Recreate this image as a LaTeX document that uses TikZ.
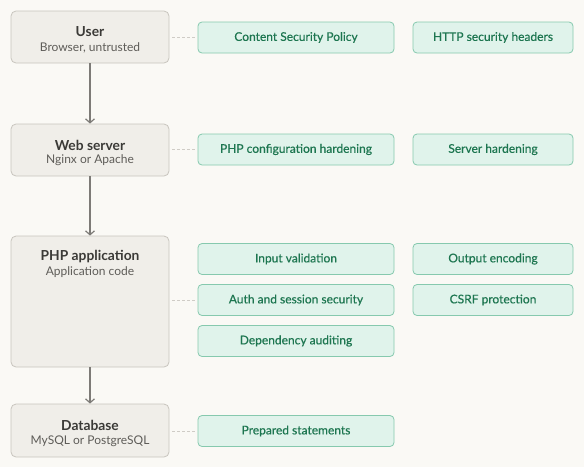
\documentclass[tikz,border=0pt]{standalone}
\usepackage{fontspec}
\setmainfont{Lato}
\newfontfamily\guardfont{Lato}[FakeBold=0.4]
\usetikzlibrary{positioning,arrows.meta}

\definecolor{pagebg}{HTML}{FAF9F5}
\definecolor{layerfill}{HTML}{F0EEE9}
\definecolor{layerdraw}{HTML}{C8C5BE}
\definecolor{layertext}{HTML}{3B3A37}
\definecolor{layersub}{HTML}{5E5C58}
\definecolor{guardfill}{HTML}{E0F3EB}
\definecolor{guarddraw}{HTML}{86C9AE}
\definecolor{guardtext}{HTML}{1D7650}
\definecolor{linkgray}{HTML}{7D7B77}
\definecolor{dashgray}{HTML}{CFCCC6}

\tikzset{
	layer/.style={draw=layerdraw, fill=layerfill, rounded corners=5pt, line width=0.8pt, minimum width=158pt},
	title/.style={text=layertext, font=\fontsize{13.8}{16}\selectfont\bfseries, anchor=center},
	subtitle/.style={text=layersub, font=\fontsize{12}{14}\selectfont, anchor=center},
	guard/.style={draw=guarddraw, fill=guardfill, rounded corners=4pt, line width=0.8pt, minimum height=31pt, text=guardtext, font=\guardfont\fontsize{12}{14}\selectfont},
	wide/.style={guard, minimum width=196pt},
	narrow/.style={guard, minimum width=160pt},
	flow/.style={draw=linkgray, line width=1.2pt, >={Straight Barb[length=4pt,width=9pt]}},
	tie/.style={draw=dashgray, line width=0.8pt, dash pattern=on 3pt off 2pt}
}

\begin{document}
\begin{tikzpicture}[x=1pt,y=-1pt]
	\fill[pagebg] (0,0) rectangle (584,467);
	\useasboundingbox (0,0) rectangle (584,467);

	% layers
	\node[layer, minimum height=52pt] (user) at (90,37) {};
	\node[title] (usertitle) at (90,32) {User};
	\node[subtitle] (usersub) at (90,47.5) {Browser, untrusted};

	\node[layer, minimum height=52pt] (web) at (90,150) {};
	\node[title] (webtitle) at (90,145) {Web server};
	\node[subtitle] (websub) at (90,160.5) {Nginx or Apache};

	\node[layer, minimum height=131pt] (app) at (90,301.5) {};
	\node[title] (apptitle) at (90,257) {PHP application};
	\node[subtitle] (appsub) at (90,272.5) {Application code};

	\node[layer, minimum height=53pt] (db) at (90,430.5) {};
	\node[title] (dbtitle) at (90,425) {Database};
	\node[subtitle] (dbsub) at (90,441.5) {MySQL or PostgreSQL};

	% flow between layers
	\draw[flow] [->] (user) -- (web);
	\draw[flow] [->] (web) -- (app);
	\draw[flow] [->] (app) -- (db);

	% user measures
	\node[wide] (csp) at (296,37.5) {Content Security Policy};
	\node[narrow] (headers) at (493,37.5) {HTTP security headers};

	% web server measures
	\node[wide] (phpconf) at (296,149.5) {PHP configuration hardening};
	\node[narrow] (serverhard) at (493,149.5) {Server hardening};

	% application measures
	\node[wide] (input) at (296,259) {Input validation};
	\node[narrow] (output) at (493,259) {Output encoding};
	\node[wide] (auth) at (296,300) {Auth and session security};
	\node[narrow] (csrf) at (493,300) {CSRF protection};
	\node[wide] (deps) at (296,341) {Dependency auditing};

	% database measures
	\node[wide] (prepared) at (296,431) {Prepared statements};

	% ties
	\draw[tie] ([xshift=3pt]user.east |- csp.west) -- ([xshift=-3pt]csp.west);
	\draw[tie] ([xshift=3pt]web.east |- phpconf.west) -- ([xshift=-3pt]phpconf.west);
	\draw[tie] ([xshift=3pt]app.east |- auth.west) -- ([xshift=-3pt]auth.west);
	\draw[tie] ([xshift=3pt]db.east |- prepared.west) -- ([xshift=-3pt]prepared.west);

\end{tikzpicture}
\end{document}
